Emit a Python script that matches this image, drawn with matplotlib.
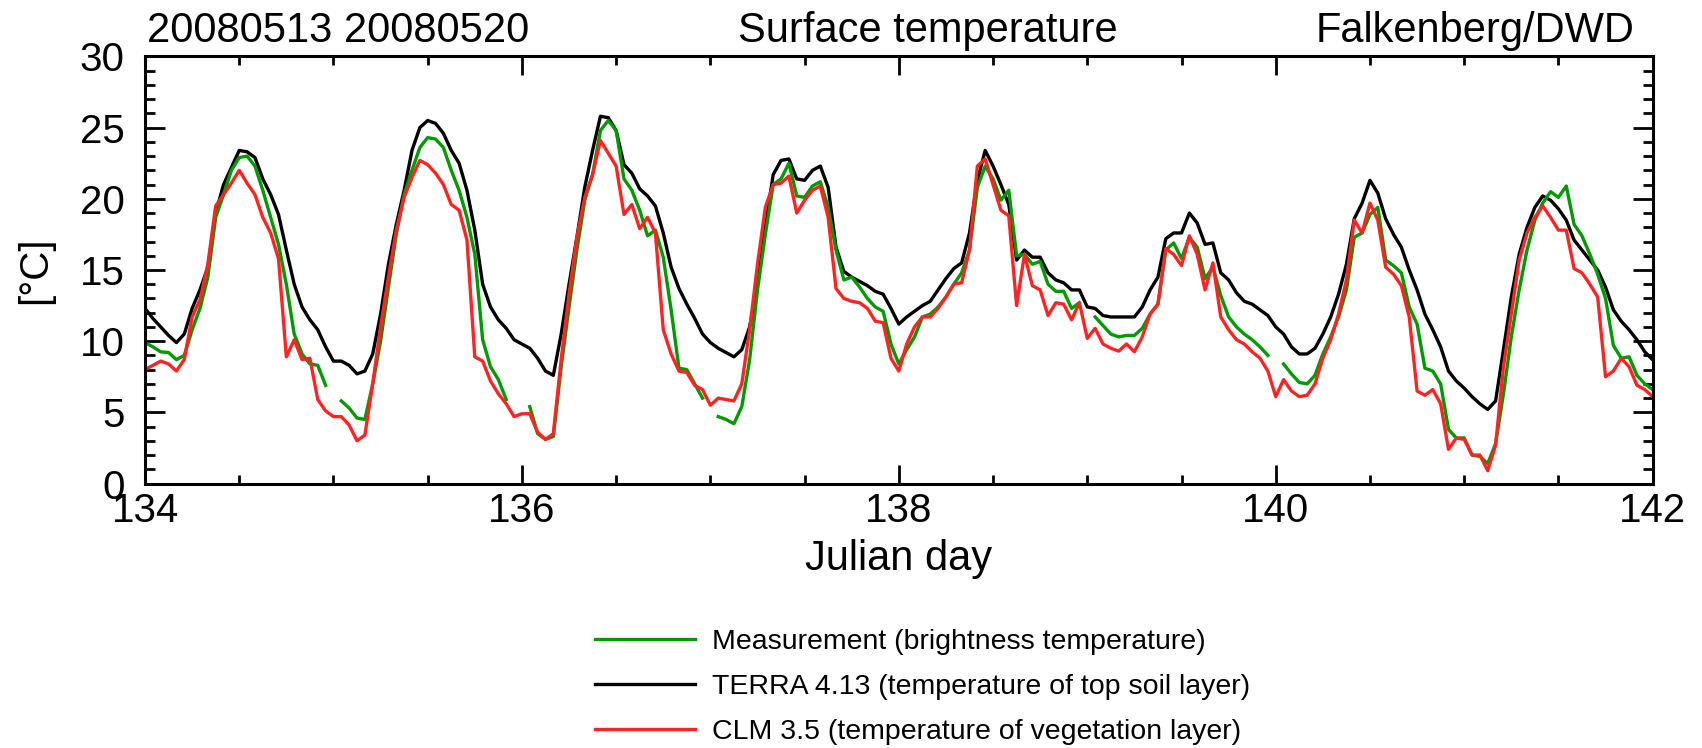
import numpy as np
import matplotlib
matplotlib.use("Agg")
from matplotlib import pyplot as plt
from matplotlib.ticker import MultipleLocator

nan = np.nan

# hourly values, day 134.0 to 142.0
measurement = [
    9.9, 9.6, 9.25, 9.2, 8.7, 9.0, 10.8, 12.3, 14.5, 18.7,
    20.3, 22.0, 22.9, 23.0, 22.3, 20.6, 18.7, 16.8, 14.0, 10.5,
    9.1, 8.4, 8.3, 6.9, nan, 5.8, 5.3, 4.6, 4.5, 7.0,
    10.0, 13.8, 17.5, 20.3, 22.0, 23.6, 24.3, 24.2, 23.6, 22.0,
    20.6, 18.7, 16.1, 10.1, 8.2, 7.3, 5.9, nan, nan, 5.4,
    3.5, 3.1, 3.3, 8.2, 12.4, 16.4, 19.9, 21.7, 24.8, 25.5,
    24.8, 21.4, 20.6, 19.2, 17.4, 17.8, 15.9, 12.2, 8.1, 8.0,
    7.0, 6.0, nan, 4.7, 4.5, 4.2, 5.4, 8.7, 13.6, 17.5,
    21.0, 21.4, 22.5, 20.2, 20.1, 20.9, 21.2, 19.4, 16.4, 14.3,
    14.5, 13.8, 13.0, 12.4, 12.1, 9.8, 8.4, 9.4, 10.3, 11.7,
    11.9, 12.4, 13.1, 14.0, 14.8, 16.4, 20.8, 22.3, 21.4, 19.9,
    20.6, 16.0, 16.1, 15.4, 15.6, 14.0, 13.5, 13.5, 12.3, 12.7,
    nan, 11.7, 11.1, 10.5, 10.3, 10.4, 10.4, 10.9, 11.9, 12.6,
    16.4, 16.9, 15.8, 17.3, 16.6, 14.4, 15.2, 13.2, 11.7, 11.0,
    10.5, 10.1, 9.6, 9.0, nan, 8.4, 7.7, 7.1, 7.0, 7.6,
    9.1, 10.3, 11.7, 13.6, 17.3, 17.6, 18.9, 19.4, 15.7, 15.3,
    14.8, 12.4, 11.2, 8.1, 7.9, 7.0, 3.8, 3.2, 3.2, 2.0,
    1.9, 1.4, 2.8, 6.3, 10.3, 13.6, 16.4, 18.5, 19.7, 20.5,
    20.1, 20.9, 18.2, 17.4, 16.1, 14.7, 13.0, 9.7, 8.8, 8.9,
    7.6, 7.0, 6.6,
]

terra = [
    12.3, 11.6, 11.0, 10.4, 9.9, 10.5, 12.3, 13.6, 15.2, 19.0,
    21.0, 22.2, 23.4, 23.3, 22.9, 21.4, 20.3, 18.9, 16.4, 14.0,
    12.4, 11.5, 10.8, 9.6, 8.6, 8.6, 8.3, 7.7, 7.9, 9.1,
    11.9, 15.4, 18.2, 20.6, 23.4, 25.0, 25.5, 25.3, 24.6, 23.4,
    22.5, 20.6, 17.8, 14.0, 12.4, 11.5, 10.9, 10.1, 9.8, 9.5,
    8.8, 7.9, 7.6, 10.5, 14.0, 17.3, 20.8, 23.4, 25.8, 25.7,
    24.8, 22.4, 21.8, 20.7, 20.2, 19.5, 17.6, 15.2, 13.7, 12.6,
    11.6, 10.5, 9.9, 9.5, 9.2, 8.9, 9.4, 11.0, 14.0, 18.0,
    21.7, 22.7, 22.8, 21.4, 21.3, 22.0, 22.3, 20.8, 16.6, 14.9,
    14.5, 14.2, 13.9, 13.5, 13.3, 12.3, 11.2, 11.7, 12.1, 12.5,
    12.8, 13.6, 14.4, 15.1, 15.5, 17.6, 21.3, 23.4, 22.3, 21.0,
    19.6, 15.7, 16.4, 15.9, 15.9, 14.8, 14.3, 14.1, 13.6, 13.6,
    12.4, 12.3, 11.8, 11.7, 11.7, 11.7, 11.7, 12.4, 13.6, 14.5,
    17.2, 17.6, 17.6, 19.0, 18.3, 16.8, 16.9, 14.8, 14.3, 13.4,
    12.8, 12.6, 12.2, 11.8, 11.0, 10.5, 9.6, 9.1, 9.1, 9.5,
    10.5, 11.7, 13.3, 15.4, 18.6, 19.7, 21.3, 20.4, 18.6, 17.5,
    16.6, 15.0, 13.6, 11.9, 10.8, 9.6, 7.9, 7.2, 6.7, 6.1,
    5.6, 5.2, 5.8, 9.4, 13.1, 16.1, 18.0, 19.4, 20.2, 19.9,
    19.3, 18.5, 17.1, 16.4, 15.7, 15.0, 13.8, 12.2, 11.4, 10.8,
    10.1, 9.25, 8.7,
]

clm = [
    8.0, 8.3, 8.6, 8.4, 7.9, 8.7, 11.7, 12.9, 15.4, 19.5,
    20.3, 21.1, 22.0, 21.1, 20.3, 18.7, 17.6, 15.8, 8.9, 10.1,
    8.7, 8.8, 5.9, 5.1, 4.7, 4.7, 4.1, 3.0, 3.4, 7.0,
    11.0, 14.5, 17.8, 20.1, 21.5, 22.7, 22.4, 21.8, 21.0, 19.6,
    19.2, 17.1, 8.9, 8.6, 7.2, 6.3, 5.6, 4.7, 4.9, 4.9,
    3.6, 3.1, 3.5, 8.7, 13.3, 17.3, 20.1, 21.7, 24.1, 23.2,
    22.3, 18.9, 19.6, 17.9, 18.7, 17.6, 10.8, 9.1, 7.9, 7.8,
    6.9, 6.6, 5.5, 6.0, 5.9, 5.8, 7.0, 10.8, 15.4, 19.4,
    21.0, 21.1, 21.6, 19.0, 19.9, 20.6, 20.9, 18.7, 13.7, 13.0,
    12.8, 12.7, 12.3, 11.4, 11.3, 8.8, 7.9, 9.8, 11.0, 11.7,
    11.7, 12.3, 13.1, 14.0, 14.1, 16.4, 22.3, 22.8, 21.0, 19.2,
    18.8, 12.5, 16.1, 13.9, 13.6, 11.8, 12.7, 12.6, 11.5, 12.7,
    10.2, 10.9, 9.8, 9.5, 9.3, 9.8, 9.25, 10.3, 11.9, 12.6,
    16.5, 16.1, 15.3, 17.4, 16.1, 13.6, 15.5, 11.7, 10.8, 10.1,
    9.8, 9.25, 8.8, 7.9, 6.1, 7.3, 6.5, 6.1, 6.2, 7.0,
    8.8, 10.1, 11.9, 14.3, 18.5, 17.6, 19.7, 18.5, 15.2, 14.7,
    13.9, 11.7, 6.5, 6.2, 6.6, 5.6, 2.4, 3.2, 3.1, 2.0,
    2.0, 0.9, 2.7, 8.2, 11.9, 15.7, 17.6, 18.7, 19.5, 18.7,
    17.8, 17.8, 15.1, 14.8, 14.0, 13.1, 7.5, 7.9, 8.8, 8.2,
    6.9, 6.6, 6.1,
]

julian_day = 134 + np.arange(len(terra)) / 24.0

labels = [
    "Measurement (brightness temperature)",
    "TERRA 4.13 (temperature of top soil layer)",
    "CLM 3.5 (temperature of vegetation layer)",
]
green = "#009900"
red = "#ff2424"

plt.rcParams["font.family"] = ["Liberation Sans", "DejaVu Sans"]

fig = plt.figure(figsize=(17.02, 7.48), dpi=100)
ax = fig.add_axes([0.0852, 0.3536, 0.8858, 0.5709])

l_terra, = ax.plot(julian_day, terra, color="black", lw=2.4)
l_meas, = ax.plot(julian_day, measurement, color=green, lw=2.4)
l_clm, = ax.plot(julian_day, clm, color=red, lw=2.4)

ax.set_xlim(134, 142)
ax.set_ylim(0, 30)
ax.xaxis.set_major_locator(MultipleLocator(2))
ax.xaxis.set_minor_locator(MultipleLocator(0.5))
ax.yaxis.set_major_locator(MultipleLocator(5))
ax.yaxis.set_minor_locator(MultipleLocator(1))
ax.tick_params(which="both", direction="in", top=True, right=True, width=2.0,
               labelsize=29)
ax.tick_params(axis="x", which="major", length=14, pad=6)
ax.tick_params(axis="x", which="minor", length=6.5)
ax.tick_params(axis="y", which="major", length=14.5, pad=14.5)
ax.tick_params(axis="y", which="minor", length=7.2)
for s in ax.spines.values():
    s.set_linewidth(2.2)

ax.set_xlabel("Julian day", fontsize=30, va="center")
ax.xaxis.set_label_coords(0.5, -0.177)
fig.text(35 / 1702, 1 - 270 / 748, "[°C]", fontsize=29, rotation=90,
         ha="center", va="center")

ax.text(0.0013, 1.0347, "20080513 20080520", transform=ax.transAxes,
        fontsize=30, ha="left", va="baseline")
ax.text(0.519, 1.0347, "Surface temperature", transform=ax.transAxes,
        fontsize=30, ha="center", va="baseline")
ax.text(0.988, 1.0347, "Falkenberg/DWD", transform=ax.transAxes,
        fontsize=30, ha="right", va="baseline")

leg = fig.legend([l_meas, l_terra, l_clm], labels, loc="center left",
                 bbox_to_anchor=(595 / 1702, 1 - 687 / 748), frameon=False,
                 fontsize=20.5, handlelength=3.5, handletextpad=0.6,
                 labelspacing=0.66, borderpad=0, borderaxespad=0)
for line in leg.get_lines():
    line.set_linewidth(2.4)

fig.savefig("out.png", dpi=100)
